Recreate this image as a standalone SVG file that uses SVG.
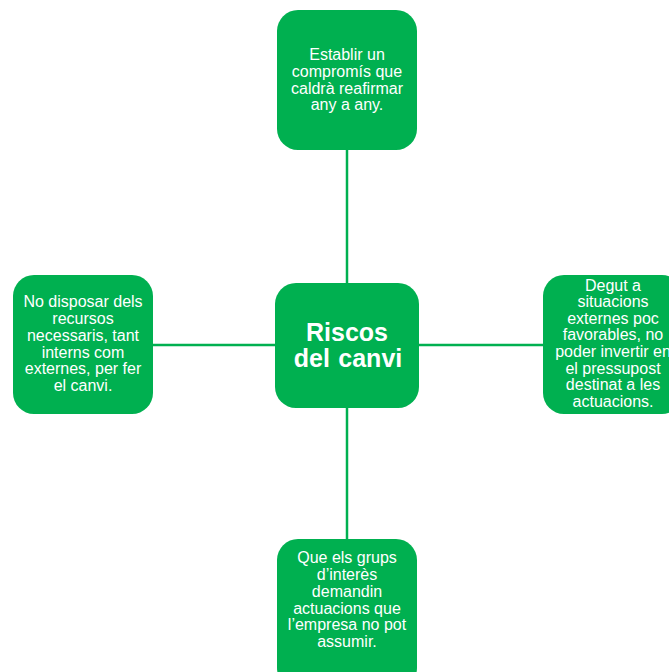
<svg xmlns="http://www.w3.org/2000/svg" width="669" height="672" viewBox="0 0 669 672">
  <style>
    .box { fill: #00B050; }
    .txt { fill: #FFFFFF; font-family: "Liberation Sans", Arial, sans-serif; font-size: 16px; text-anchor: middle; }
    .title { fill: #FFFFFF; font-family: "Liberation Sans", Arial, sans-serif; font-size: 25px; font-weight: bold; text-anchor: middle; }
    .link { stroke: #00B050; stroke-width: 2.5; fill: none; }
  </style>
  <rect width="669" height="672" fill="#FFFFFF"/>

  <g id="connectors">
    <line class="link" x1="347" y1="150" x2="347" y2="283"/>
    <line class="link" x1="347" y1="408" x2="347" y2="539"/>
    <line class="link" x1="153" y1="345" x2="275" y2="345"/>
    <line class="link" x1="419" y1="345" x2="543" y2="345"/>
  </g>

  <g id="center">
    <rect class="box" x="275" y="283" width="144" height="125" rx="21"/>
    <text class="title" x="347" y="340.5">Riscos</text>
    <text class="title" x="348" y="366.5" word-spacing="1.5">del canvi</text>
  </g>

  <g id="top">
    <rect class="box" x="277" y="10" width="140" height="140" rx="21"/>
    <text class="txt" x="347" y="60">Establir un</text>
    <text class="txt" x="347" y="77">compromís que</text>
    <text class="txt" x="347" y="93.5">caldrà reafirmar</text>
    <text class="txt" x="347" y="110">any a any.</text>
  </g>

  <g id="left">
    <rect class="box" x="13" y="275" width="140" height="139" rx="21"/>
    <text class="txt" x="83" y="307">No disposar dels</text>
    <text class="txt" x="83" y="324">recursos</text>
    <text class="txt" x="83" y="341">necessaris, tant</text>
    <text class="txt" x="83" y="357.5">interns com</text>
    <text class="txt" x="83" y="374">externes, per fer</text>
    <text class="txt" x="83" y="391">el canvi.</text>
  </g>

  <g id="right">
    <rect class="box" x="543" y="275" width="140" height="139" rx="21"/>
    <text class="txt" x="613" y="290.5">Degut a</text>
    <text class="txt" x="613" y="307">situacions</text>
    <text class="txt" x="613" y="323.5">externes poc</text>
    <text class="txt" x="613" y="340">favorables, no</text>
    <text class="txt" x="613" y="357">poder invertir en</text>
    <text class="txt" x="613" y="373.5">el pressupost</text>
    <text class="txt" x="613" y="390">destinat a les</text>
    <text class="txt" x="613" y="407">actuacions.</text>
  </g>

  <g id="bottom">
    <rect class="box" x="277" y="539" width="140" height="150" rx="21"/>
    <text class="txt" x="347" y="563">Que els grups</text>
    <text class="txt" x="347" y="580">d’interès</text>
    <text class="txt" x="347" y="597">demandin</text>
    <text class="txt" x="347" y="613.5">actuacions que</text>
    <text class="txt" x="347" y="630">l’empresa no pot</text>
    <text class="txt" x="347" y="647">assumir.</text>
  </g>
</svg>
